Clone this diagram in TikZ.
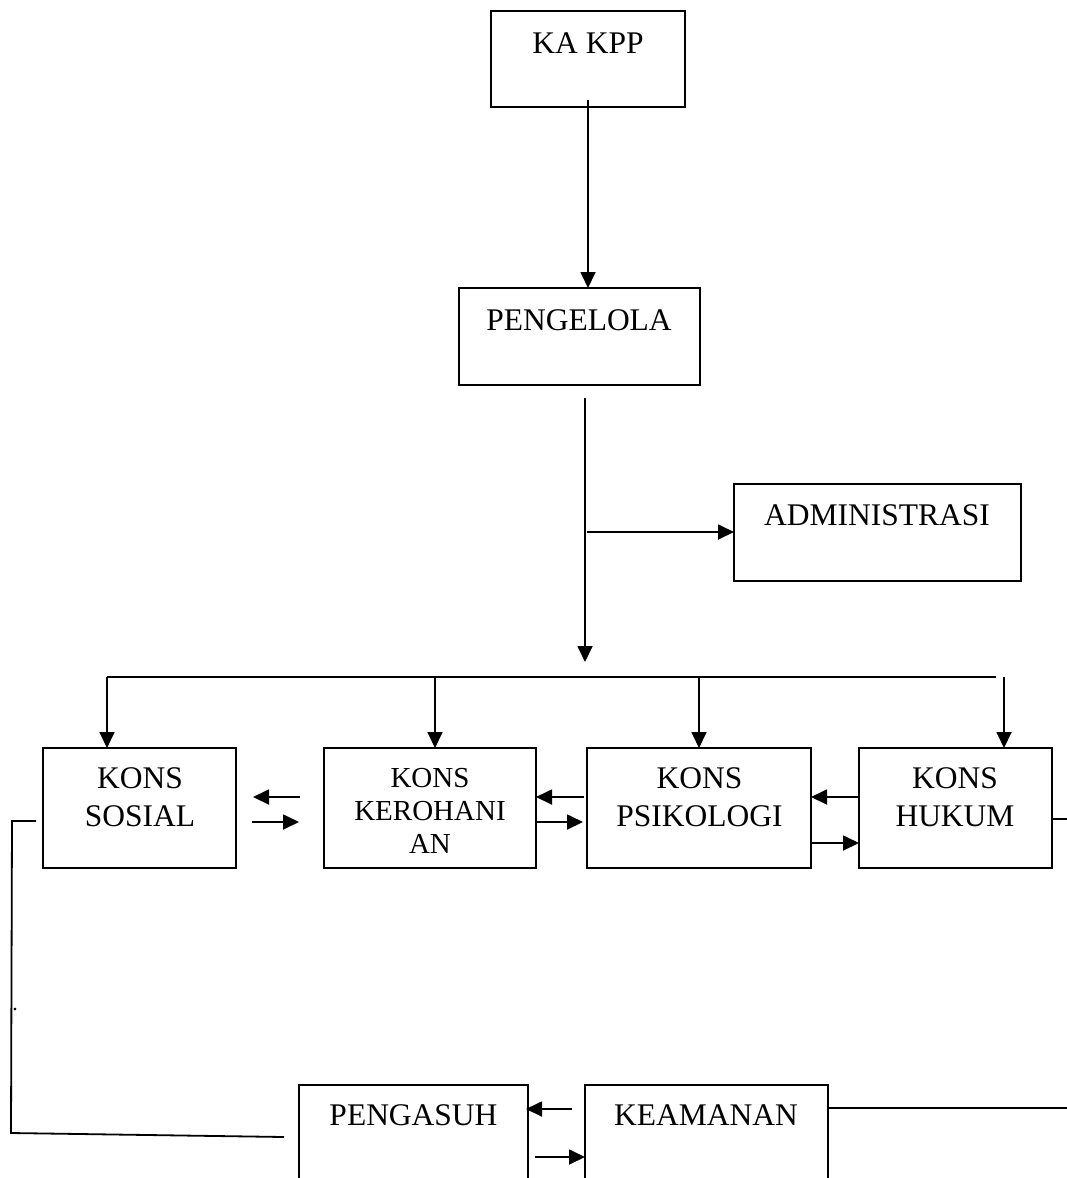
\documentclass[tikz,border=0pt]{standalone}
\usepackage{fontspec}
\setmainfont{Liberation Serif}
\usetikzlibrary{arrows.meta,calc}
\begin{document}
\begin{tikzpicture}[x=1bp,y=-1bp,
  box/.style={draw,line width=1.8bp,anchor=north west,inner sep=0pt,outer sep=0pt},
  txt/.style={anchor=base,inner sep=0pt,font=\fontsize{31.5bp}{38bp}\selectfont,align=center},
  stxt/.style={anchor=base,inner sep=0pt,font=\fontsize{29bp}{33bp}\selectfont,align=center},
  ln/.style={line width=1.8bp},
  arr/.style={ln,-{Triangle[length=16bp,width=15bp]}}]
\useasboundingbox (0,0) rectangle (1067,1178);
\clip (0,0) rectangle (1067,1178);
% boxes
\node[box,minimum width=194bp,minimum height=96bp] (ka) at (491,11) {};
\node[box,minimum width=241bp,minimum height=97bp] (pen) at (459,288) {};
\node[box,minimum width=287bp,minimum height=97bp] (adm) at (734,484) {};
\node[box,minimum width=193bp,minimum height=120bp] (sos) at (43,748) {};
\node[box,minimum width=212bp,minimum height=120bp] (ker) at (324,748) {};
\node[box,minimum width=224bp,minimum height=120bp] (psi) at (587,748) {};
\node[box,minimum width=193bp,minimum height=120bp] (huk) at (859,748) {};
\node[box,minimum width=229bp,minimum height=130bp] (asuh) at (299,1085) {};
\node[box,minimum width=243bp,minimum height=130bp] (aman) at (585,1085) {};
% texts (anchor = baseline of last line)
\node[txt] (tka) at (588,53) {KA KPP};
\node[txt] (tpen) at (579,330) {PENGELOLA};
\node[txt] (tadm) at (877,525) {ADMINISTRASI};
\node[txt] (tsos) at (140,826) {KONS\\SOSIAL};
\node[stxt] (tker) at (430,853) {KONS\\KEROHANI\\AN};
\node[txt] (tpsi) at (699.5,826) {KONS\\PSIKOLOGI};
\node[txt] (thuk) at (955,826) {KONS\\HUKUM};
\node[txt] (tasuh) at (413.5,1125) {PENGASUH};
\node[txt] (taman) at (706,1125) {KEAMANAN};
\node[anchor=base,inner sep=0pt,font=\fontsize{22bp}{22bp}\selectfont] (dot) at (15,1010) {.};
% vertical chain
\coordinate (kas) at (588,100);
\draw[arr] (kas) -- (kas |- pen.north);
\coordinate (pens) at (585,398);
\coordinate (pene) at (585,662);
\draw[arr] (pens) -- (pene);
\coordinate (admst) at (587,532);
\draw[arr] (admst) -- (adm.west |- admst);
% bus
\coordinate (busL) at (107,677);
\coordinate (busR) at (996,677);
\draw[ln] (busL) -- (busR);
\coordinate (bk) at (435,677);
\coordinate (bp) at (699,677);
\coordinate (bh) at (1004,677);
\draw[arr] (busL) -- (busL |- sos.north);
\draw[arr] (bk) -- (bk |- ker.north);
\draw[arr] (bp) -- (bp |- psi.north);
\draw[arr] (bh) -- (bh |- huk.north);
% arrows between kons boxes
\coordinate (a1s) at (300,797); \coordinate (a1e) at (253,797);
\draw[arr] (a1s) -- (a1e);
\coordinate (a2s) at (252,822); \coordinate (a2e) at (299,822);
\draw[arr] (a2s) -- (a2e);
\coordinate (a3s) at (584,797);
\draw[arr] (a3s) -- (ker.east |- a3s);
\coordinate (a4s) at (537,822); \coordinate (a4e) at (583,822);
\draw[arr] (a4s) -- (a4e);
\coordinate (a5) at (0,797);
\draw[arr] (huk.west |- a5) -- (psi.east |- a5);
\coordinate (a6) at (0,843);
\draw[arr] (psi.east |- a6) -- (huk.west |- a6);
% right exits
\coordinate (hr) at (1067,819);
\draw[ln] (huk.east |- hr) -- (hr);
\coordinate (kr) at (1067,1108);
\draw[ln] (aman.east |- kr) -- (kr);
% left loop
\coordinate (l1) at (36,821);
\coordinate (l2) at (12,821);
\coordinate (l3) at (11,1133);
\coordinate (l4) at (284,1137);
\draw[ln] (l1) -- (l2) -- (l3) -- (l4);
% bottom arrows
\coordinate (b1s) at (572,1109); \coordinate (b1e) at (526,1109);
\draw[arr] (b1s) -- (b1e);
\coordinate (b2s) at (535,1157);
\draw[arr] (b2s) -- (aman.west |- b2s);
\end{tikzpicture}
\end{document}
